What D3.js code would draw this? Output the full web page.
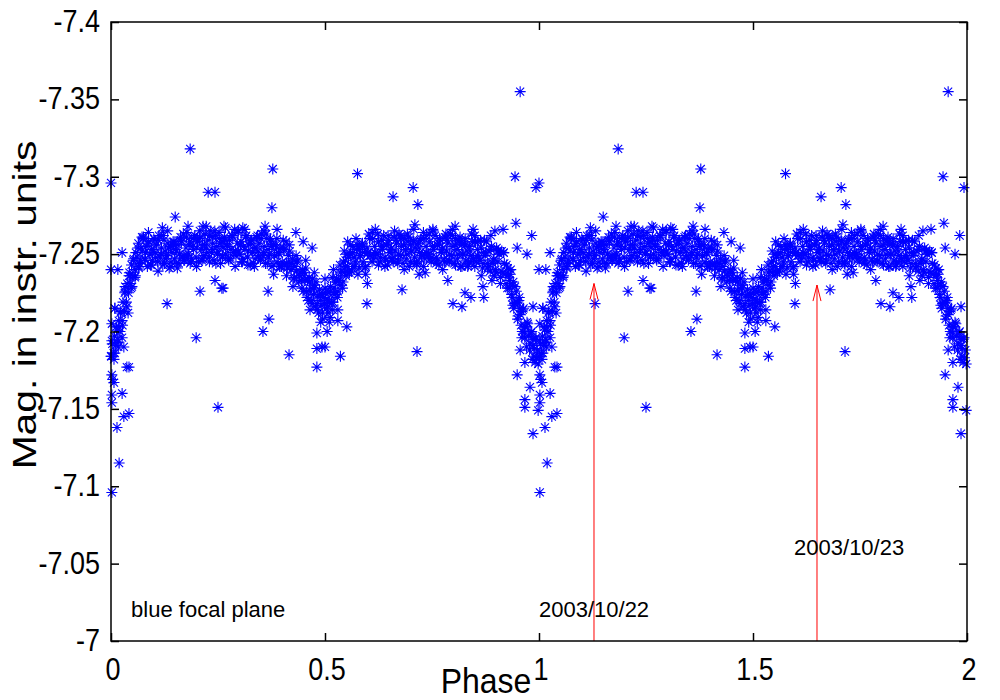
<!DOCTYPE html>
<html><head><meta charset="utf-8">
<script src="https://cdn.jsdelivr.net/npm/d3@7"></script>
<style>
body{margin:0;background:#fff}
text{font-family:"Liberation Sans",Arial,Helvetica,sans-serif;fill:#000}
</style>
</head><body>
<svg id="chart" width="1000" height="700"></svg>
<script>
// ---------- axis values ----------
const xTicks = [0, 0.5, 1, 1.5, 2];
const xTickLabels = ["0", "0.5", "1", "1.5", "2"];
const yTicks = [-7.4, -7.35, -7.3, -7.25, -7.2, -7.15, -7.1, -7.05, -7];
const yTickLabels = ["-7.4", "-7.35", "-7.3", "-7.25", "-7.2", "-7.15", "-7.1", "-7.05", "-7"];
const xLabel = "Phase";
const yLabel = "Mag. in instr. units";
// the phased light curve (one cycle) is plotted at phase and phase+1
const cycles = [0, 1];

// ---------- data: [phase, magnitude] ----------
const egress = [
[0.001,-7.184],[0.003,-7.192],[0.006,-7.186],[0.008,-7.197],[0.011,-7.191],[0.013,-7.201],[0.016,-7.195],[0.018,-7.207],
[0.021,-7.200],[0.023,-7.213],[0.026,-7.207],[0.028,-7.219],[0.031,-7.213],[0.033,-7.226],[0.036,-7.219],[0.038,-7.231],
[0.041,-7.225],[0.043,-7.238],[0.046,-7.231],[0.048,-7.243],[0.051,-7.236],[0.053,-7.247],[0.056,-7.240],[0.058,-7.251],
[0.002,-7.194],[0.007,-7.182],[0.012,-7.203],[0.017,-7.190],[0.022,-7.212],[0.027,-7.204],[0.032,-7.225],[0.037,-7.216],
[0.042,-7.236],[0.047,-7.228],[0.052,-7.246],[0.057,-7.236]
];
const plateauA = [
[0.061,-7.248],[0.064,-7.257],[0.067,-7.244],[0.070,-7.254],[0.073,-7.252],[0.076,-7.261],[0.079,-7.247],[0.082,-7.255],
[0.085,-7.242],[0.088,-7.258],[0.091,-7.250],[0.094,-7.253],[0.097,-7.246],[0.100,-7.260],[0.103,-7.251],[0.106,-7.256],
[0.109,-7.245],[0.112,-7.262],[0.115,-7.248],[0.118,-7.254],[0.121,-7.243],[0.124,-7.259],[0.127,-7.252],[0.130,-7.249],
[0.133,-7.257],[0.136,-7.241],[0.139,-7.255],[0.142,-7.251],[0.145,-7.258],[0.148,-7.247],[0.151,-7.253],[0.154,-7.244],
[0.157,-7.256],[0.160,-7.250],[0.163,-7.259],[0.166,-7.248],[0.169,-7.263],[0.172,-7.246],[0.175,-7.254],[0.178,-7.249],
[0.181,-7.250],[0.184,-7.258],[0.187,-7.245],[0.190,-7.255],[0.193,-7.253],[0.196,-7.262],[0.199,-7.248],[0.202,-7.258],
[0.205,-7.245],[0.208,-7.261],[0.211,-7.253],[0.214,-7.256],[0.217,-7.249],[0.220,-7.263],[0.223,-7.254],[0.226,-7.259],
[0.229,-7.248],[0.232,-7.265],[0.235,-7.251],[0.238,-7.257],[0.241,-7.246],[0.244,-7.262],[0.247,-7.255],[0.250,-7.252],
[0.253,-7.260],[0.256,-7.244],[0.259,-7.258],[0.262,-7.254],[0.265,-7.261],[0.268,-7.250],[0.271,-7.256],[0.274,-7.247],
[0.277,-7.259],[0.280,-7.253],[0.283,-7.262],[0.286,-7.251],[0.289,-7.266],[0.292,-7.249],[0.295,-7.257],[0.298,-7.252],
[0.301,-7.250],[0.304,-7.258],[0.307,-7.245],[0.310,-7.255],[0.313,-7.253],[0.316,-7.262],[0.319,-7.248],[0.322,-7.256],
[0.325,-7.243],[0.328,-7.259],[0.331,-7.251],[0.334,-7.254],[0.337,-7.247],[0.340,-7.261],[0.343,-7.252],[0.346,-7.257],
[0.349,-7.246],[0.352,-7.263],[0.355,-7.249],[0.358,-7.255],[0.361,-7.244],[0.364,-7.260],[0.367,-7.253],[0.370,-7.250],
[0.373,-7.258],[0.376,-7.242],[0.379,-7.256],[0.382,-7.249],[0.385,-7.256],[0.388,-7.245],[0.391,-7.251],[0.394,-7.242],
[0.397,-7.254],[0.400,-7.245],[0.403,-7.254],[0.406,-7.243],[0.409,-7.258],[0.412,-7.241],[0.415,-7.249],[0.418,-7.244],
[0.421,-7.240],[0.424,-7.247],[0.427,-7.234],[0.430,-7.242],[0.433,-7.239],[0.436,-7.246],[0.439,-7.232],[0.442,-7.238],
[0.0625,-7.254],[0.0685,-7.246],[0.0745,-7.260],[0.0805,-7.251],[0.0865,-7.257],[0.0925,-7.243],[0.0985,-7.253],[0.1045,-7.248],
[0.1105,-7.259],[0.1165,-7.250],[0.1225,-7.262],[0.1285,-7.247],[0.1345,-7.254],[0.1405,-7.245],[0.1465,-7.256],[0.1525,-7.252],
[0.1585,-7.244],[0.1645,-7.258],[0.1705,-7.249],[0.1765,-7.261],[0.1825,-7.256],[0.1885,-7.247],[0.1945,-7.261],[0.2005,-7.254],
[0.2065,-7.260],[0.2125,-7.246],[0.2185,-7.256],[0.2245,-7.251],[0.2305,-7.262],[0.2365,-7.253],[0.2425,-7.265],[0.2485,-7.250],
[0.2545,-7.257],[0.2605,-7.248],[0.2665,-7.259],[0.2725,-7.255],[0.2785,-7.247],[0.2845,-7.261],[0.2905,-7.252],[0.2965,-7.264],
[0.3025,-7.256],[0.3085,-7.247],[0.3145,-7.261],[0.3205,-7.252],[0.3265,-7.258],[0.3325,-7.244],[0.3385,-7.254],[0.3445,-7.249],
[0.3505,-7.260],[0.3565,-7.251],[0.3625,-7.263],[0.3685,-7.248],[0.3745,-7.255],[0.3805,-7.243],[0.3865,-7.254],[0.3925,-7.250],
[0.3985,-7.242],[0.4045,-7.253],[0.4105,-7.244],[0.4165,-7.256],[0.4225,-7.244],[0.4285,-7.235],[0.4345,-7.245],[0.4405,-7.236],
[0.065,-7.241],[0.0725,-7.261],[0.080,-7.246],[0.0875,-7.264],[0.095,-7.243],[0.1025,-7.259],[0.110,-7.239],[0.1175,-7.262],
[0.125,-7.244],[0.1325,-7.265],[0.140,-7.242],[0.1475,-7.258],[0.155,-7.241],[0.1625,-7.261],[0.170,-7.246],[0.1775,-7.264],
[0.185,-7.244],[0.1925,-7.260],[0.200,-7.242],[0.2075,-7.265],[0.215,-7.247],[0.2225,-7.268],[0.230,-7.245],[0.2375,-7.261],
[0.245,-7.244],[0.2525,-7.264],[0.260,-7.249],[0.2675,-7.267],[0.275,-7.246],[0.2825,-7.262],[0.290,-7.242],[0.2975,-7.265],
[0.305,-7.245],[0.3125,-7.266],[0.320,-7.243],[0.3275,-7.259],[0.335,-7.242],[0.3425,-7.262],[0.350,-7.247],[0.3575,-7.265],
[0.365,-7.244],[0.3725,-7.260],[0.380,-7.237],[0.3875,-7.260],[0.395,-7.242],[0.4025,-7.259],[0.410,-7.236],[0.4175,-7.252],
[0.425,-7.229],[0.4325,-7.249]
];
const secondary = [
[0.445,-7.233],[0.447,-7.240],[0.449,-7.226],[0.451,-7.236],[0.453,-7.233],[0.455,-7.241],[0.457,-7.226],[0.459,-7.233],
[0.461,-7.220],[0.463,-7.235],[0.465,-7.226],[0.467,-7.228],[0.469,-7.220],[0.471,-7.234],[0.473,-7.224],[0.475,-7.228],
[0.477,-7.216],[0.479,-7.232],[0.481,-7.218],[0.483,-7.223],[0.485,-7.212],[0.487,-7.227],[0.489,-7.220],[0.491,-7.217],
[0.493,-7.224],[0.495,-7.208],[0.497,-7.222],[0.499,-7.218],[0.501,-7.225],[0.503,-7.215],[0.505,-7.221],[0.507,-7.212],
[0.509,-7.225],[0.511,-7.219],[0.513,-7.229],[0.515,-7.219],[0.517,-7.235],[0.519,-7.219],[0.521,-7.228],[0.523,-7.224],
[0.525,-7.225],[0.527,-7.234],[0.529,-7.222],[0.531,-7.233],[0.533,-7.233],[0.535,-7.243],[0.537,-7.230],[0.539,-7.239],
[0.541,-7.228],[0.543,-7.245],[0.545,-7.238],[0.547,-7.242],[0.549,-7.236],[0.551,-7.250],[0.553,-7.242],[0.555,-7.248],
[0.557,-7.238],[0.559,-7.256],
[0.446,-7.228],[0.452,-7.238],[0.458,-7.222],[0.464,-7.232],[0.470,-7.218],[0.476,-7.230],[0.482,-7.214],[0.488,-7.224],
[0.494,-7.212],[0.500,-7.228],[0.506,-7.216],[0.512,-7.226],[0.518,-7.214],[0.524,-7.232],[0.530,-7.226],[0.536,-7.238],
[0.542,-7.232],[0.548,-7.246],[0.554,-7.238],[0.560,-7.250],
[0.455,-7.246],[0.465,-7.214],[0.475,-7.238],[0.490,-7.206],[0.500,-7.234],[0.510,-7.206],[0.520,-7.240],[0.530,-7.214],
[0.545,-7.252]
];
const plateauB = [
[0.562,-7.239],[0.565,-7.255],[0.568,-7.248],[0.571,-7.245],[0.574,-7.253],[0.577,-7.237],[0.580,-7.253],[0.583,-7.249],
[0.586,-7.256],[0.589,-7.245],[0.592,-7.251],[0.595,-7.242],[0.598,-7.254],[0.601,-7.251],[0.604,-7.260],[0.607,-7.249],
[0.610,-7.264],[0.613,-7.247],[0.616,-7.255],[0.619,-7.250],[0.622,-7.250],[0.625,-7.258],[0.628,-7.245],[0.631,-7.255],
[0.634,-7.253],[0.637,-7.262],[0.640,-7.248],[0.643,-7.256],[0.646,-7.243],[0.649,-7.259],[0.652,-7.251],[0.655,-7.254],
[0.658,-7.247],[0.661,-7.261],[0.664,-7.252],[0.667,-7.257],[0.670,-7.246],[0.673,-7.263],[0.676,-7.249],[0.679,-7.255],
[0.682,-7.244],[0.685,-7.260],[0.688,-7.253],[0.691,-7.250],[0.694,-7.258],[0.697,-7.242],[0.700,-7.256],[0.703,-7.252],
[0.706,-7.259],[0.709,-7.248],[0.712,-7.254],[0.715,-7.245],[0.718,-7.257],[0.721,-7.251],[0.724,-7.260],[0.727,-7.249],
[0.730,-7.264],[0.733,-7.247],[0.736,-7.255],[0.739,-7.250],[0.742,-7.250],[0.745,-7.258],[0.748,-7.245],[0.751,-7.255],
[0.754,-7.253],[0.757,-7.262],[0.760,-7.248],[0.763,-7.256],[0.766,-7.243],[0.769,-7.259],[0.772,-7.251],[0.775,-7.254],
[0.778,-7.247],[0.781,-7.261],[0.784,-7.252],[0.787,-7.257],[0.790,-7.246],[0.793,-7.263],[0.796,-7.249],[0.799,-7.255],
[0.802,-7.244],[0.805,-7.260],[0.808,-7.253],[0.811,-7.250],[0.814,-7.258],[0.817,-7.242],[0.820,-7.256],[0.823,-7.250],
[0.826,-7.257],[0.829,-7.246],[0.832,-7.252],[0.835,-7.243],[0.838,-7.255],[0.841,-7.249],[0.844,-7.258],[0.847,-7.247],
[0.850,-7.262],[0.853,-7.245],[0.856,-7.253],[0.859,-7.248],[0.862,-7.246],[0.865,-7.254],[0.868,-7.241],[0.871,-7.251],
[0.874,-7.249],[0.877,-7.258],[0.880,-7.244],[0.883,-7.252],[0.886,-7.239],[0.889,-7.255],[0.892,-7.244],[0.895,-7.247],
[0.898,-7.240],[0.901,-7.254],[0.904,-7.245],[0.907,-7.250],[0.910,-7.235],[0.913,-7.252],[0.916,-7.238],[0.919,-7.244],
[0.5635,-7.251],[0.5695,-7.242],[0.5755,-7.256],[0.5815,-7.249],[0.5875,-7.255],[0.5935,-7.241],[0.5995,-7.251],[0.6055,-7.249],
[0.6115,-7.260],[0.6175,-7.251],[0.6235,-7.263],[0.6295,-7.248],[0.6355,-7.255],[0.6415,-7.246],[0.6475,-7.257],[0.6535,-7.253],
[0.6595,-7.245],[0.6655,-7.259],[0.6715,-7.250],[0.6775,-7.262],[0.6835,-7.256],[0.6895,-7.247],[0.6955,-7.261],[0.7015,-7.252],
[0.7075,-7.258],[0.7135,-7.244],[0.7195,-7.254],[0.7255,-7.249],[0.7315,-7.260],[0.7375,-7.251],[0.7435,-7.263],[0.7495,-7.248],
[0.7555,-7.255],[0.7615,-7.246],[0.7675,-7.257],[0.7735,-7.253],[0.7795,-7.245],[0.7855,-7.259],[0.7915,-7.250],[0.7975,-7.262],
[0.8035,-7.256],[0.8095,-7.247],[0.8155,-7.261],[0.8215,-7.250],[0.8275,-7.256],[0.8335,-7.242],[0.8395,-7.252],[0.8455,-7.247],
[0.8515,-7.258],[0.8575,-7.249],[0.8635,-7.259],[0.8695,-7.244],[0.8755,-7.251],[0.8815,-7.242],[0.8875,-7.253],[0.8935,-7.246],
[0.8995,-7.238],[0.9055,-7.252],[0.9115,-7.239],[0.9175,-7.251],
[0.565,-7.242],[0.5725,-7.260],[0.580,-7.241],[0.5875,-7.257],[0.595,-7.237],[0.6025,-7.263],[0.610,-7.245],[0.6175,-7.266],
[0.625,-7.243],[0.6325,-7.259],[0.640,-7.242],[0.6475,-7.262],[0.655,-7.247],[0.6625,-7.265],[0.670,-7.244],[0.6775,-7.260],
[0.685,-7.240],[0.6925,-7.263],[0.700,-7.245],[0.7075,-7.266],[0.715,-7.243],[0.7225,-7.259],[0.730,-7.242],[0.7375,-7.262],
[0.745,-7.247],[0.7525,-7.265],[0.760,-7.244],[0.7675,-7.260],[0.775,-7.240],[0.7825,-7.263],[0.790,-7.245],[0.7975,-7.266],
[0.805,-7.243],[0.8125,-7.259],[0.820,-7.242],[0.8275,-7.260],[0.835,-7.245],[0.8425,-7.263],[0.850,-7.242],[0.8575,-7.258],
[0.865,-7.236],[0.8725,-7.259],[0.880,-7.241],[0.8875,-7.262],[0.895,-7.236],[0.9025,-7.252],[0.910,-7.231],[0.9175,-7.251]
];
const ingress = [
[0.921,-7.237],[0.924,-7.243],[0.926,-7.228],[0.929,-7.237],[0.931,-7.233],[0.934,-7.240],[0.936,-7.224],[0.939,-7.230],
[0.941,-7.215],[0.944,-7.229],[0.946,-7.219],[0.949,-7.219],[0.951,-7.210],[0.954,-7.222],[0.956,-7.211],[0.959,-7.213],
[0.961,-7.200],[0.964,-7.215],[0.966,-7.199],[0.969,-7.203],[0.971,-7.190],[0.974,-7.205],[0.976,-7.197],[0.979,-7.192],
[0.981,-7.199],[0.984,-7.182],[0.986,-7.195],[0.989,-7.189],[0.991,-7.195],[0.994,-7.183],[0.996,-7.188],[0.998,-7.179],
[0.923,-7.231],[0.927,-7.241],[0.930,-7.228],[0.933,-7.237],[0.937,-7.222],[0.940,-7.232],[0.943,-7.218],[0.947,-7.226],
[0.950,-7.208],[0.953,-7.220],[0.958,-7.204],[0.962,-7.214],[0.967,-7.196],[0.972,-7.206],[0.978,-7.188],[0.983,-7.200],
[0.988,-7.184],[0.993,-7.196]
];
const eclipseScatter = [
[0.939,-7.217],[0.956,-7.215],[0.986,-7.216],[0.967,-7.203],[0.009,-7.215],[0.019,-7.203],[0.026,-7.196],[0.960,-7.196],
[0.986,-7.191],[0.956,-7.188],[0.009,-7.186],[0.030,-7.190],[0.967,-7.180],[0.991,-7.180],[0.042,-7.177],[0.949,-7.172],
[0.002,-7.172],[0.007,-7.167],[0.979,-7.164],[0.026,-7.160],[0.002,-7.159],[0.967,-7.156],[0.967,-7.151],[0.002,-7.154],
[0.998,-7.149],[0.042,-7.147],[0.030,-7.145],[0.014,-7.138],[0.986,-7.134],[0.019,-7.115],[0.002,-7.096],
[0.000,-7.240],[0.016,-7.240],[0.026,-7.251],[0.009,-7.215],[0.002,-7.205],[0.000,-7.184],[0.004,-7.169],
[0.033,-7.229],[0.040,-7.212],[0.016,-7.193],[0.037,-7.177],[0.049,-7.229],[0.056,-7.235],[0.065,-7.242]
];
const outliersBright = [
[0.000,-7.296],[0.185,-7.318],[0.227,-7.290],[0.243,-7.290],[0.150,-7.274],[0.120,-7.267],[0.180,-7.268],[0.215,-7.268],
[0.264,-7.268],[0.308,-7.267],[0.360,-7.268],[0.388,-7.266],[0.432,-7.264],[0.449,-7.258],[0.470,-7.254],[0.378,-7.305],
[0.376,-7.280],[0.576,-7.302],[0.659,-7.287],[0.706,-7.293],[0.717,-7.282],[0.710,-7.269],[0.553,-7.258],[0.944,-7.300],
[0.956,-7.355],[0.993,-7.293],[0.946,-7.270],[0.983,-7.262],[0.752,-7.266],[0.804,-7.268],[0.846,-7.266],[0.897,-7.265],
[0.916,-7.266],[0.949,-7.254],[0.972,-7.250]
];
const outliersFaint = [
[0.199,-7.196],[0.250,-7.151],[0.131,-7.218],[0.262,-7.228],[0.367,-7.226],[0.369,-7.208],[0.355,-7.200],[0.416,-7.185],
[0.481,-7.199],[0.481,-7.177],[0.481,-7.189],[0.493,-7.190],[0.505,-7.200],[0.598,-7.218],[0.680,-7.227],[0.599,-7.231],
[0.720,-7.237],[0.734,-7.238],[0.551,-7.203],[0.530,-7.207],[0.512,-7.209],[0.536,-7.184],[0.715,-7.187],[0.500,-7.190],
[0.787,-7.233],[0.827,-7.225],[0.841,-7.222],[0.799,-7.218],[0.820,-7.216],[0.869,-7.229],[0.871,-7.222],[0.890,-7.233],
[0.243,-7.233],[0.259,-7.228],[0.208,-7.226],[0.044,-7.236]
];

// ---------- annotations ----------
const arrowPhase = [1.1285, 1.6495];
const arrowTipMag = [-7.231, -7.230];
const arrowBaseMag = [-7.0, -7.0];
const noteText = ["blue focal plane", "2003/10/22", "2003/10/23"];
const notePhase = [0.047, 1.0, 1.596];
const noteMag = [-7.0155, -7.0155, -7.0555];

// ---------- drawing ----------
const svg = d3.select("#chart");
const x = d3.scaleLinear().domain([0, 2]).range([111, 967]);
const y = d3.scaleLinear().domain([-7.4, -7]).range([22, 641]);

const allPoints = [].concat(egress, plateauA, secondary, plateauB, ingress, eclipseScatter, outliersBright, outliersFaint);
const plotted = [];
cycles.forEach(c => allPoints.forEach(p => plotted.push([p[0] + c, p[1]])));

const star = "M-5.5,0H5.5M0,-5.5V5.5M-4,-4L4,4M-4,4L4,-4";
svg.append("g")
  .selectAll("path")
  .data(plotted)
  .join("path")
  .attr("d", star)
  .attr("transform", d => `translate(${x(d[0])},${y(d[1])})`)
  .attr("fill", "none")
  .attr("stroke", "#0000ff")
  .attr("stroke-width", 1.1);

// arrows
const arrows = arrowPhase.map((p, i) => ({p, tip: arrowTipMag[i], base: arrowBaseMag[i]}));
const ag = svg.append("g").attr("stroke", "#ff0000").attr("stroke-width", 1).attr("fill", "none");
ag.selectAll("line").data(arrows).join("line")
  .attr("x1", d => x(d.p)).attr("x2", d => x(d.p))
  .attr("y1", d => y(d.base)).attr("y2", d => y(d.tip));
ag.selectAll("path").data(arrows).join("path")
  .attr("d", d => `M${x(d.p) - 4},${y(d.tip) + 16}L${x(d.p)},${y(d.tip)}L${x(d.p) + 4},${y(d.tip) + 16}`);

// notes
svg.append("g").selectAll("text").data(noteText).join("text")
  .attr("x", (d, i) => x(notePhase[i]))
  .attr("y", (d, i) => y(noteMag[i]))
  .attr("font-size", 22)
  .text(d => d);

// axes (inward ticks, mirrored)
const axG = svg.append("g").attr("class", "axes");
axG.append("g").attr("transform", "translate(111,0)")
  .call(d3.axisLeft(y).tickValues(yTicks).tickSize(-8).tickFormat(""));
axG.append("g").attr("transform", "translate(967,0)")
  .call(d3.axisRight(y).tickValues(yTicks).tickSize(-8).tickFormat(""));
axG.append("g").attr("transform", "translate(0,641)")
  .call(d3.axisBottom(x).tickValues(xTicks).tickSize(-8).tickFormat(""));
axG.append("g").attr("transform", "translate(0,22)")
  .call(d3.axisTop(x).tickValues(xTicks).tickSize(-8).tickFormat(""));
axG.selectAll(".domain").remove();
axG.selectAll(".tick line").attr("stroke", "#000").attr("stroke-width", 1.5);
svg.append("rect").attr("x", 111).attr("y", 22).attr("width", 856).attr("height", 619)
  .attr("fill", "none").attr("stroke", "#000").attr("stroke-width", 1.5);

// tick labels
svg.append("g").selectAll("text").data(yTicks).join("text")
  .attr("text-anchor", "end")
  .attr("font-size", 27)
  .attr("transform", d => `translate(100,${y(d) + 10}) scale(1,1.15)`)
  .text((d, i) => yTickLabels[i]);
svg.append("g").selectAll("text").data(xTicks).join("text")
  .attr("text-anchor", "middle")
  .attr("font-size", 27)
  .attr("transform", d => `translate(${x(d) + 2},680) scale(1,1.15)`)
  .text((d, i) => xTickLabels[i]);

// axis titles
svg.append("text").attr("text-anchor", "middle").attr("font-size", 32)
  .attr("transform", "translate(486,693) scale(1,1.08)").text(xLabel);
svg.append("text").attr("text-anchor", "middle").attr("font-size", 34)
  .attr("transform", "translate(36,305) rotate(-90) scale(1.2,1)").text(yLabel);
</script>
</body></html>
